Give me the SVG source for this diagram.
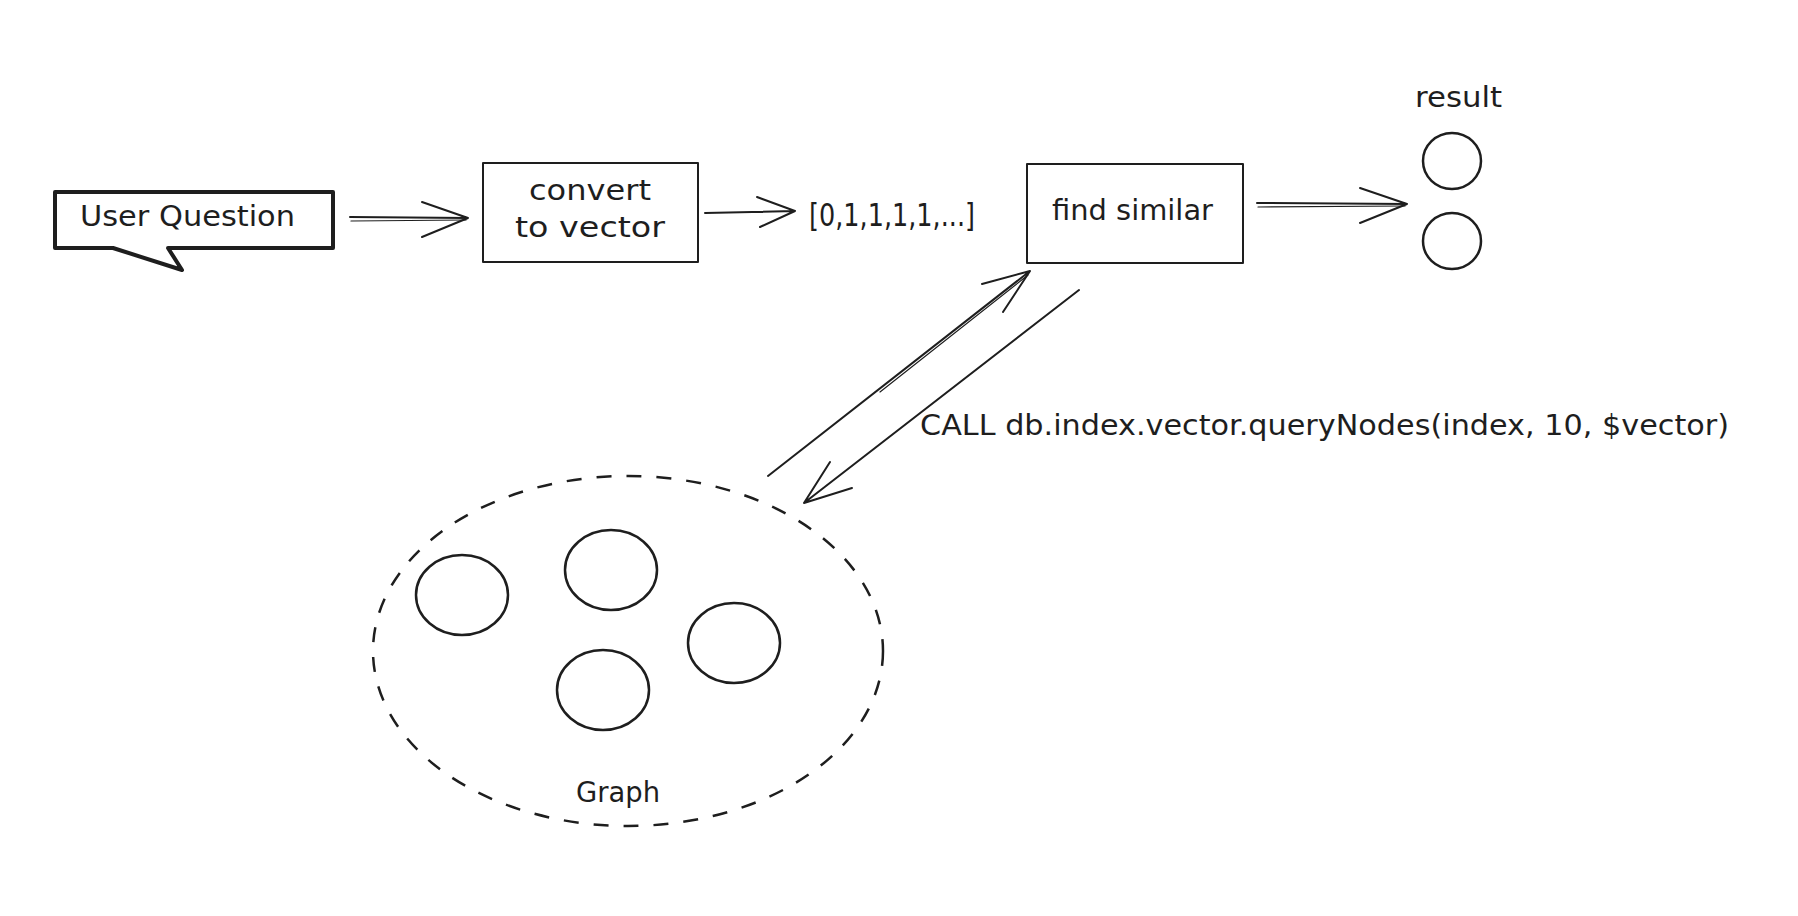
<svg xmlns="http://www.w3.org/2000/svg" width="1798" height="916" viewBox="0 0 1798 916">
<style>
.bg{fill:#ffffff}
.shape{fill:none;stroke:#1e1e1e;stroke-width:2;stroke-linejoin:round;stroke-linecap:round}
.thick{stroke-width:4}
.node{stroke-width:2.5}
.dash{stroke-width:2.5;stroke-dasharray:15 15;stroke-linecap:butt}
.conn path{fill:none;stroke:#1e1e1e;stroke-width:2;stroke-linecap:round;stroke-linejoin:round}
.conn .thin{stroke-width:1.2}
.t{font-family:"DejaVu Sans","Liberation Sans",sans-serif;font-size:28px;fill:#1e1e1e}
.big{font-size:32px}
</style>
<rect class="bg" x="0" y="0" width="1798" height="916"/>

<g id="user-question">
<path class="shape thick" d="M55 192 L333 192 L333 248 L168 248 L182 270 L113 248 L55 248 Z"/>
<text class="t" x="80" y="226" textLength="215" lengthAdjust="spacingAndGlyphs">User Question</text>
</g>

<g id="convert-to-vector">
<rect class="shape" x="483" y="163" width="215" height="99"/>
<text class="t" x="590" y="200" text-anchor="middle" textLength="122" lengthAdjust="spacingAndGlyphs">convert</text>
<text class="t" x="590" y="237" text-anchor="middle" textLength="150" lengthAdjust="spacingAndGlyphs">to vector</text>
</g>

<g id="vector-value">
<text class="t big" x="809" y="226" textLength="166" lengthAdjust="spacingAndGlyphs">[0,1,1,1,1,...]</text>
</g>

<g id="find-similar">
<rect class="shape" x="1027" y="164" width="216" height="99"/>
<text class="t" x="1052" y="220" textLength="161" lengthAdjust="spacingAndGlyphs">find similar</text>
</g>

<g id="result">
<text class="t" x="1415" y="107" textLength="87" lengthAdjust="spacingAndGlyphs">result</text>
<ellipse class="shape node" cx="1452" cy="161" rx="29" ry="28"/>
<ellipse class="shape node" cx="1452" cy="241" rx="29" ry="28"/>
</g>

<g id="graph">
<ellipse class="shape dash" cx="628" cy="651" rx="255" ry="175"/>
<ellipse class="shape node" cx="462" cy="595" rx="46" ry="40"/>
<ellipse class="shape node" cx="611" cy="570" rx="46" ry="40"/>
<ellipse class="shape node" cx="734" cy="643" rx="46" ry="40"/>
<ellipse class="shape node" cx="603" cy="690" rx="46" ry="40"/>
<text class="t" x="576" y="802" textLength="84" lengthAdjust="spacingAndGlyphs">Graph</text>
</g>

<g id="connectors" class="conn">
<path d="M350 217 L468 218 M422 202 L468 218 L422 237"/>
<path class="thin" d="M351 221 L466 220"/>
<path d="M705 213 L795 211 M757 197 L795 211 L760 227"/>
<path d="M1257 203 L1407 204 M1360 188 L1407 204 L1360 223"/>
<path class="thin" d="M1258 207 L1405 206"/>
<path d="M768 476 L1030 271 M982 284 L1030 271 L1003 312"/>
<path class="thin" d="M880 392 L1028 275"/>
<path d="M1079 290 L804 503 M830 462 L804 503 L852 488"/>
<text class="t" x="920" y="435" textLength="809" lengthAdjust="spacingAndGlyphs">CALL db.index.vector.queryNodes(index, 10, $vector)</text>
</g>
</svg>
